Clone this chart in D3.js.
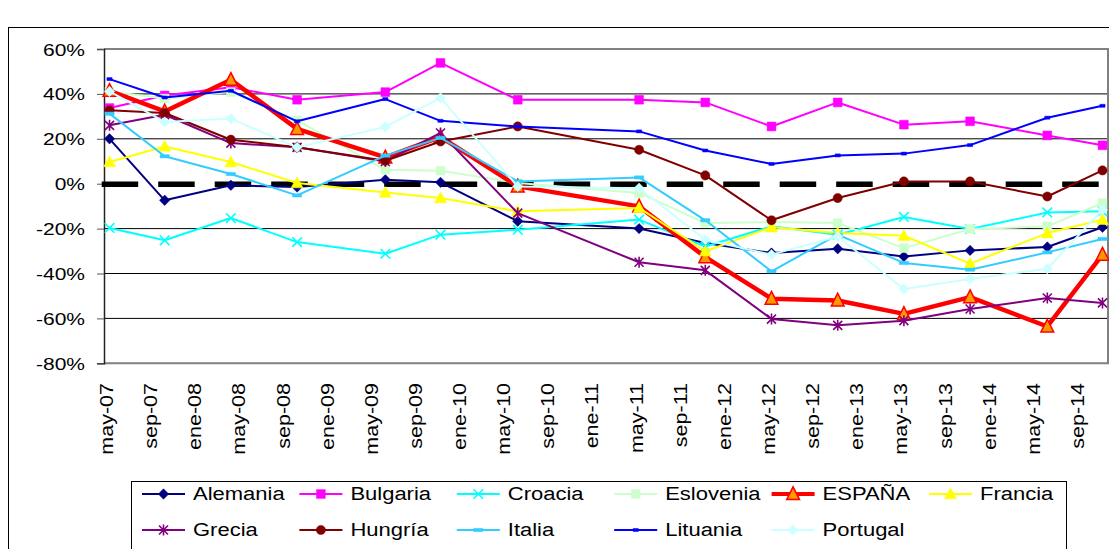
<!DOCTYPE html>
<html>
<head>
<meta charset="utf-8">
<script src="https://cdn.jsdelivr.net/npm/d3@7"></script>
<style>
  body { margin: 0; background: #fff; }
  text { font-family: "Liberation Sans", Arial, sans-serif; fill: #000; }
</style>
</head>
<body>
<div id="chart"></div>
<script>
// Survey dates (one point per wave)
const dates = ["2007-05", "2007-10", "2008-04", "2008-10", "2009-06", "2009-11", "2010-06",
  "2011-05", "2011-11", "2012-05", "2012-11", "2013-05", "2013-11", "2014-06", "2014-11"];

// Month names for the axis labels
const monthNames = ["ene", "feb", "mar", "abr", "may", "jun", "jul", "ago", "sep", "oct", "nov", "dic"];
const yTicks = [60, 40, 20, 0, -20, -40, -60, -80];

// Values (%)
const alemania = [20, -7.4, -0.7, -1.5, 1.8, 0.6, -16.7, -20, -26.4, -30.9, -29, -32.4, -29.7, -28.2, -19.4];
const bulgaria = [33.7, 39.3, 43, 37.4, 40.8, 53.8, 37.4, 37.4, 36.2, 25.5, 36.2, 26.3, 27.8, 21.5, 17.1];
const croacia = [-19.7, -25.2, -15.3, -26, -31.2, -22.7, -20.5, -16, -28, -19, -22.7, -14.8, -20.2, -12.8, -12.3];
const eslovenia = [41.1, 37.9, 40.8, 28.2, 6.2, 5.8, 0.3, -4.1, -17.5, -17.1, -17.5, -28.7, -20.2, -19, -8.6];
const espana = [41.4, 32.2, 46.3, 24.4, 11.7, 20.9, -1.2, -10.1, -32.7, -51.2, -52, -58, -50.5, -63.6, -31.6];
const francia = [9.7, 16.6, 9.7, 0.3, -3.9, -6.4, -12.3, -10.8, -30.1, -19.4, -22, -23.2, -35.6, -22, -16];
const grecia = [26, 30.7, 18.1, 16.2, 9.9, 22.6, -13.1, -35, -38.6, -60.3, -63.1, -61, -55.8, -50.9, -53.1];
const hungria = [32.7, 31.5, 19.6, 16.2, 10.2, 18.8, 25.5, 15.1, 3.7, -16.3, -6.4, 1, 1, -5.7, 5.9];
const italia = [31.2, 12.2, 4.3, -5.2, 12.5, 20.4, 1, 2.8, -16.3, -39, -22.7, -35.3, -38.3, -30.6, -24.6];
const lituania = [46.6, 38.4, 41.4, 27.8, 37.7, 28, 25.5, 23.3, 14.8, 8.8, 12.6, 13.4, 17.2, 29.4, 34.7];
const portugal = [41.1, 27.5, 29, 16.2, 25.3, 38.2, -1.2, -2, -25, -31.6, -23.5, -46.9, -42.4, -37.9, -11.6];

const series = [
  { name: "Alemania", values: alemania, color: "#000080", marker: "diamond" },
  { name: "Bulgaria", values: bulgaria, color: "#FF00FF", marker: "square" },
  { name: "Croacia", values: croacia, color: "#00FFFF", marker: "x" },
  { name: "Eslovenia", values: eslovenia, color: "#CCFFCC", marker: "square" },
  { name: "ESPAÑA", values: espana, color: "#FF0000", marker: "bigtriangle", width: 4.5, fill: "#FF9900" },
  { name: "Francia", values: francia, color: "#FFFF00", marker: "triangle" },
  { name: "Grecia", values: grecia, color: "#800080", marker: "star" },
  { name: "Hungría", values: hungria, color: "#800000", marker: "circle" },
  { name: "Italia", values: italia, color: "#33CCFF", marker: "dash" },
  { name: "Lituania", values: lituania, color: "#0000FF", marker: "smalldash" },
  { name: "Portugal", values: portugal, color: "#CCFFFF", marker: "diamond" }
];

const W = 1109, H = 549;
const plot = { left: 104, right: 1108, top: 49, bottom: 363.3 };

const svg = d3.select("#chart").append("svg")
  .attr("width", W)
  .attr("height", H);

svg.append("rect").attr("width", W).attr("height", H).attr("fill", "#fff");

// outer chart border (runs off the picture)
svg.append("rect")
  .attr("x", 8.5).attr("y", 27.5)
  .attr("width", 1130).attr("height", 600)
  .attr("fill", "none").attr("stroke", "#000").attr("stroke-width", 1);

const parse = d3.timeParse("%Y-%m");
const months = d3.timeMonth.range(parse("2007-05"), parse("2014-12"));
const fmtKey = d3.timeFormat("%Y-%m");

const x = d3.scaleBand()
  .domain(months.map(fmtKey))
  .range([plot.left, plot.right])
  .padding(0);
const xc = d => x(d) + x.bandwidth() / 2;

const y = d3.scaleLinear().domain([-80, 60]).range([plot.bottom, plot.top]);

// gridlines
svg.append("g")
  .selectAll("line")
  .data(yTicks.filter(t => t !== 0 && t !== 60 && t !== -80))
  .join("line")
  .attr("x1", plot.left).attr("x2", plot.right)
  .attr("y1", d => y(d)).attr("y2", d => y(d))
  .attr("stroke", "#000").attr("stroke-width", 1);

// plot frame (top, right, bottom)
svg.append("path")
  .attr("d", `M${plot.left},${y(60)} H${plot.right} V${y(-80)} H${plot.left}`)
  .attr("fill", "none").attr("stroke", "#808080").attr("stroke-width", 2);

// y axis
const yAxis = svg.append("g")
  .attr("transform", `translate(${plot.left},0)`)
  .call(d3.axisLeft(y).tickValues(yTicks).tickSize(7).tickFormat(d => d + "%"));
yAxis.select(".domain").attr("stroke", "#222").attr("stroke-width", 1.5);
yAxis.selectAll(".tick line").attr("stroke", "#555");
yAxis.selectAll(".tick text").remove();
yAxis.selectAll(".tick").append("text")
  .attr("transform", "translate(-19,0) scale(1,0.8)")
  .attr("text-anchor", "end")
  .attr("dy", "0.36em")
  .style("font-size", "21px")
  .text(d => d + "%");

// x axis labels every 4 months
const tickMonths = months.filter((m, i) => i % 4 === 0 && i <= 88);
svg.append("g")
  .selectAll("text")
  .data(tickMonths)
  .join("text")
  .attr("transform", d => `translate(${xc(fmtKey(d))},383) rotate(-90) scale(1,0.82)`)
  .attr("text-anchor", "end")
  .attr("dy", "0.2em")
  .style("font-size", "21.5px")
  .text(d => monthNames[d.getMonth()] + "-" + d3.timeFormat("%y")(d));

// thick dashed zero line
svg.append("line")
  .attr("x1", 101.7).attr("x2", plot.right - 1)
  .attr("y1", y(0) + 0.5).attr("y2", y(0) + 0.5)
  .attr("stroke", "#000").attr("stroke-width", 5.5)
  .attr("stroke-dasharray", "36.5,20");

// marker shapes
function markerPath(type) {
  switch (type) {
    case "diamond": return "M0,-5.2L5.2,0L0,5.2L-5.2,0Z";
    case "square": return "M-4.4,-4.4H4.4V4.4H-4.4Z";
    case "x": return "M-4.8,-4.8L4.8,4.8M-4.8,4.8L4.8,-4.8";
    case "star": return "M-4.5,-4.5L4.5,4.5M-4.5,4.5L4.5,-4.5M0,-5.5V5.5";
    case "bigtriangle": return "M0,-7.2L6.4,5.6L-6.4,5.6Z";
    case "triangle": return "M0,-6L6,4.8L-6,4.8Z";
    case "circle": return "M4.6,0A4.6,4.6 0 1,1 -4.6,0A4.6,4.6 0 1,1 4.6,0Z";
    case "dash": return "M-4.6,-1.6H4.6V1.6H-4.6Z";
    case "smalldash": return "M-2.6,-1.5H2.6V1.5H-2.6Z";
  }
}

function drawMarker(g, s) {
  const open = s.marker === "x" || s.marker === "star";
  return g.append("path")
    .attr("d", markerPath(s.marker))
    .attr("fill", open ? "none" : (s.fill || s.color))
    .attr("stroke", s.color)
    .attr("stroke-width", open ? 1.6 : (s.fill ? 1.5 : 0.5));
}

const line = d3.line()
  .x(d => xc(d.date))
  .y(d => y(d.value));

series.forEach(s => {
  const pts = dates.map((d, i) => ({ date: d, value: s.values[i] }));
  const g = svg.append("g");
  g.append("path")
    .datum(pts)
    .attr("d", line)
    .attr("fill", "none")
    .attr("stroke", s.color)
    .attr("stroke-width", s.width || 2)
    .attr("stroke-linejoin", "round");
  pts.forEach(p => {
    const m = g.append("g").attr("transform", `translate(${xc(p.date)},${y(p.value)})`);
    drawMarker(m, s);
  });
});

// legend
const legend = svg.append("g");
legend.append("rect")
  .attr("x", 131.5).attr("y", 481.5)
  .attr("width", 935).attr("height", 120)
  .attr("fill", "#fff").attr("stroke", "#000").attr("stroke-width", 1);

series.forEach((s, i) => {
  const col = i < 6 ? i : i - 6;
  const row = i < 6 ? 0 : 1;
  const lx = 142 + col * 157.4;
  const ly = 494 + row * 36;
  const g = legend.append("g").attr("transform", `translate(${lx},${ly})`);
  g.append("line")
    .attr("x1", 0).attr("x2", 43)
    .attr("stroke", s.color)
    .attr("stroke-width", s.width ? 4 : 2);
  drawMarker(g.append("g").attr("transform", "translate(21.5,0)"), s);
  g.append("text")
    .attr("transform", "translate(51,0) scale(1,0.8)")
    .attr("dy", "0.36em")
    .style("font-size", "22px")
    .text(s.name);
});
</script>
</body>
</html>
